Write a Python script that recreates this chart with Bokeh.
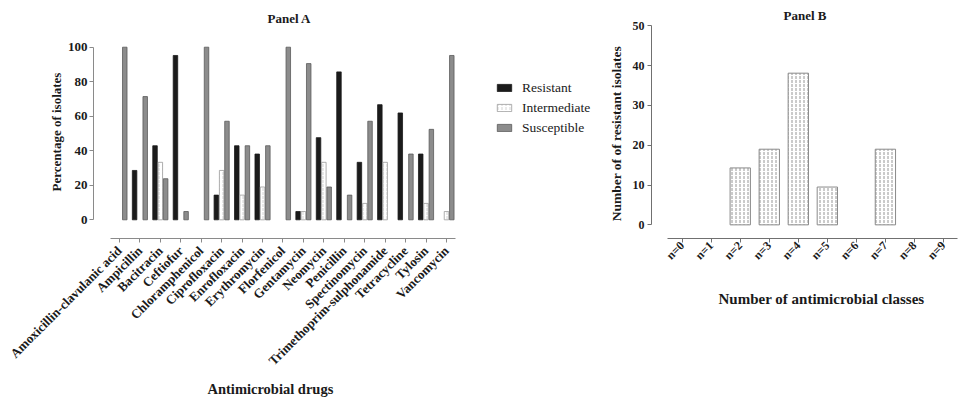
import math
from bokeh.plotting import figure
from bokeh.layouts import row
from bokeh.models import ColumnDataSource, FixedTicker, Legend, LegendItem, Range1d, Title
from bokeh.transform import dodge
from bokeh.embed import file_html
from bokeh.resources import INLINE

# ---------------- data ----------------
drugs = ["Amoxicillin-clavulanic acid", "Ampicillin", "Bacitracin", "Ceftiofur",
         "Chloramphenicol", "Ciprofloxacin", "Enrofloxacin", "Erythromycin",
         "Florfenicol", "Gentamycin", "Neomycin", "Penicillin", "Spectinomycin",
         "Trimethoprim-sulphonamide", "Tetracycline", "Tylosin", "Vancomycin"]
resistant = [0, 28.6, 42.9, 95.2, 0, 14.3, 42.9, 38.1, 0, 4.8, 47.6, 85.7, 33.3, 66.7, 61.9, 38.1, 0]
intermediate = [0, 0, 33.3, 0, 0, 28.6, 14.3, 19.0, 0, 4.8, 33.3, 0, 9.5, 33.3, 0, 9.5, 4.8]
susceptible = [100, 71.4, 23.8, 4.8, 100, 57.1, 42.9, 42.9, 100, 90.5, 19.0, 14.3, 57.1, 0, 38.1, 52.4, 95.2]
pct_ticks = [0, 20, 40, 60, 80, 100]

classes = ["n=0", "n=1", "n=2", "n=3", "n=4", "n=5", "n=6", "n=7", "n=8", "n=9"]
resistant_isolates = [0, 0, 14.3, 19.0, 38.1, 9.5, 0, 19.0, 0, 0]
count_ticks = [0, 10, 20, 30, 40, 50]

FONT = "Liberation Serif"
TXT = "#1a1a1a"


def src(vals):
    idx = [i for i, v in enumerate(vals) if v > 0]
    return ColumnDataSource(dict(x=idx, top=[vals[i] for i in idx]))


def style_axes(p, axis_color):
    p.xgrid.visible = False
    p.ygrid.visible = False
    p.outline_line_color = None
    for ax in (p.xaxis[0], p.yaxis[0]):
        ax.axis_line_color = axis_color
        ax.major_tick_line_color = axis_color
        ax.minor_tick_line_color = None
        ax.major_tick_in = 0
        ax.major_tick_out = 4
        ax.major_label_text_font = FONT
        ax.major_label_text_font_style = "bold"
        ax.major_label_text_color = TXT
        ax.axis_label_text_font = FONT
        ax.axis_label_text_font_style = "bold"
        ax.axis_label_text_color = TXT
    p.title.text_font = FONT
    p.title.text_font_style = "bold"
    p.title.text_color = TXT
    p.title.text_font_size = "13px"
    p.title.align = "left"


def bottom_title(text, offset, size, standoff):
    return Title(text=text, align="left", offset=offset, standoff=standoff,
                 text_font=FONT, text_font_style="bold", text_font_size=size, text_color=TXT)


FRAME_H = 213

# ---------------- Panel A ----------------
pA = figure(frame_width=512, frame_height=FRAME_H,
            x_range=Range1d(-1.27, 23.78), y_range=Range1d(-10.83, 112.57),
            min_border_left=93, min_border_top=25, min_border_right=0, min_border_bottom=160,
            title="Panel A", output_backend="svg", toolbar_location=None)
style_axes(pA, "#8a8a8a")
pA.title.offset = 174
pA.title.standoff = 0

rA = pA.vbar(x=dodge("x", -0.26), top="top", bottom=0, width=0.22, source=src(resistant),
             fill_color="#1b1b1b", line_color="#1b1b1b", line_width=0.8)
iA = pA.vbar(x=dodge("x", 0.0), top="top", bottom=0, width=0.22, source=src(intermediate),
             fill_color="white", line_color="#9a9a9a", line_width=0.8,
             hatch_pattern=":", hatch_color="#c8c8c8", hatch_scale=4, hatch_weight=0.8)
sA = pA.vbar(x=dodge("x", 0.26), top="top", bottom=0, width=0.22, source=src(susceptible),
             fill_color="#8c8c8c", line_color="#5a5a5a", line_width=0.8)

pA.yaxis.ticker = FixedTicker(ticks=pct_ticks)
pA.yaxis.bounds = (0, 100)
pA.yaxis.major_label_text_font_size = "13px"
pA.yaxis.axis_label = "Percentage of isolates"
pA.yaxis.axis_label_text_font_size = "13px"
pA.yaxis.axis_label_standoff = 1
pA.yaxis.major_label_standoff = 2

pA.xaxis.ticker = FixedTicker(ticks=list(range(len(drugs))))
pA.xaxis.major_label_overrides = {i: d for i, d in enumerate(drugs)}
pA.xaxis.major_label_orientation = math.pi / 4
pA.xaxis.bounds = (-0.45, 16.45)
pA.xaxis.major_label_text_font_size = "13px"
pA.xaxis.major_label_standoff = 6
pA.add_layout(bottom_title("Antimicrobial drugs", 114, "14.5px", 4), "below")

legend = Legend(items=[LegendItem(label="Resistant", renderers=[rA]),
                       LegendItem(label="Intermediate", renderers=[iA]),
                       LegendItem(label="Susceptible", renderers=[sA])],
                location=(402, 102), orientation="vertical",
                glyph_width=18, glyph_height=9, label_height=17, spacing=3,
                padding=0, margin=0, label_standoff=9,
                label_text_font=FONT, label_text_font_size="13.5px", label_text_color=TXT,
                border_line_color=None, background_fill_alpha=0)
pA.add_layout(legend)

# ---------------- Panel B ----------------
pB = figure(frame_width=307, frame_height=FRAME_H,
            x_range=Range1d(-1.057, 9.518), y_range=Range1d(-3.43, 50.08),
            min_border_left=43, min_border_top=25, min_border_right=4, min_border_bottom=160,
            title="Panel B", output_backend="svg", toolbar_location=None)
style_axes(pB, "#707070")
pB.title.offset = 132
pB.title.standoff = 5

pB.vbar(x="x", top="top", bottom=0, width=0.7, source=src(resistant_isolates),
        fill_color="white", line_color="#8a8a8a", line_width=1,
        hatch_pattern=":", hatch_color="#7a7a7a", hatch_scale=4, hatch_weight=0.8)

pB.yaxis.ticker = FixedTicker(ticks=count_ticks)
pB.yaxis.bounds = (0, 50)
pB.yaxis.major_label_text_font_size = "12px"
pB.yaxis.axis_label = "Number of  of resistant isolates"
pB.yaxis.axis_label_text_font_size = "13.5px"
pB.yaxis.axis_label_standoff = 6
pB.yaxis.major_label_standoff = 3

pB.xaxis.ticker = FixedTicker(ticks=list(range(len(classes))))
pB.xaxis.major_label_overrides = {i: c for i, c in enumerate(classes)}
pB.xaxis.major_label_orientation = math.pi / 4
pB.xaxis.bounds = (-0.5, 9.5)
pB.xaxis.major_label_text_font_size = "12px"
pB.xaxis.major_label_standoff = 1
pB.add_layout(bottom_title("Number of antimicrobial classes", 67, "15px", 36), "below")

layout = row(pA, pB)
open("out.html", "w").write(file_html(layout, INLINE))
